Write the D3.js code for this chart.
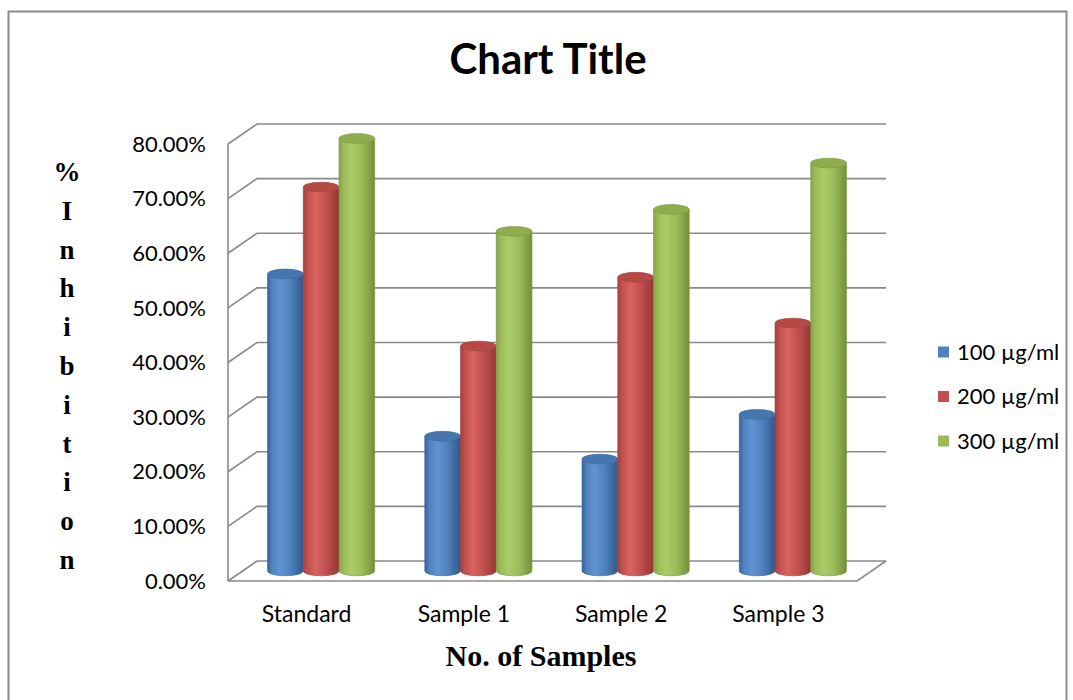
<!DOCTYPE html>
<html>
<head>
<meta charset="utf-8">
<script src="https://cdn.jsdelivr.net/npm/d3@7/dist/d3.min.js"></script>
<style>
  html, body { margin: 0; padding: 0; background: #fff; }
  svg { display: block; }
</style>
</head>
<body>
<svg id="chart" width="1073" height="700"></svg>
<script>
// Data
const categories = ["Standard", "Sample 1", "Sample 2", "Sample 3"];
const seriesNames = ["100 µg/ml", "200 µg/ml", "300 µg/ml"];
const s100 = [0.544, 0.247, 0.205, 0.287];
const s200 = [0.703, 0.412, 0.538, 0.454];
const s300 = [0.792, 0.622, 0.662, 0.747];
const yTicks = [0, 0.1, 0.2, 0.3, 0.4, 0.5, 0.6, 0.7, 0.8];
const yTitleLetters = ["%", "I", "n", "h", "i", "b", "i", "t", "i", "o", "n"];

const seriesValues = [s100, s200, s300];
const palette = [
  { edge: "#36609a", light: "#6294d4", base: "#4f81bd", dark: "#31578a", top: "#4775ad", stroke: "#3a659c" },
  { edge: "#a4403d", light: "#d96461", base: "#c0504d", dark: "#943734", top: "#b44946", stroke: "#9d3f3c" },
  { edge: "#85a444", light: "#abcd69", base: "#9bbb59", dark: "#738f3a", top: "#8fad4f", stroke: "#7b9840" }
];

const svg = d3.select("#chart");
const defs = svg.append("defs");

// Geometry of the 3D box
const front = { left: 228, right: 857, bottom: 581, top: 144 };
const depth = { dx: 29, dy: -20 };
const mid = { dx: depth.dx / 2, dy: depth.dy / 2 };

const x = d3.scaleBand().domain(categories).range([front.left, front.right]);
const y = d3.scaleLinear().domain([0, 0.8]).range([front.bottom, front.top]);
const xInner = d3.scaleBand().domain(seriesNames)
  .range([0, x.bandwidth()]).paddingOuter(0.7).paddingInner(0);

const gridColor = "#8a8a8a";
const sansFont = "Lato, 'Open Sans', sans-serif";
const serifFont = "'Liberation Serif', 'DejaVu Serif', serif";

// Outer chart border
svg.append("rect")
  .attr("x", 8.5).attr("y", 11.5).attr("width", 1058).attr("height", 720)
  .attr("fill", "none").attr("stroke", "#8a8a8a").attr("stroke-width", 2);

// Title
svg.append("text")
  .attr("x", 548).attr("y", 74)
  .attr("text-anchor", "middle")
  .attr("font-family", sansFont)
  .attr("font-weight", "bold")
  .attr("font-size", 42)
  .attr("fill", "#000")
  .text("Chart Title");

// Walls: gridlines on side wall and back wall
const grid = svg.append("g").attr("fill", "none").attr("stroke", gridColor).attr("stroke-width", 1.6);
yTicks.forEach(t => {
  const yf = y(t);
  grid.append("path").attr("d",
    `M${front.left},${yf} L${front.left + depth.dx},${yf + depth.dy} L${front.right + depth.dx},${yf + depth.dy}`);
});
// Side wall front edge
grid.append("line")
  .attr("x1", front.left).attr("x2", front.left)
  .attr("y1", y(0.8)).attr("y2", y(0));
// Floor
grid.append("path").attr("d",
  `M${front.left},${y(0)} L${front.right},${y(0)} L${front.right + depth.dx},${y(0) + depth.dy}`);

// Y tick labels
svg.append("g")
  .selectAll("text").data(yTicks).join("text")
  .attr("x", 206).attr("y", d => y(d))
  .attr("dy", "0.35em")
  .attr("text-anchor", "end")
  .attr("font-family", sansFont)
  .attr("font-size", 22)
  .attr("fill", "#000")
  .text(d => d3.format(".2%")(d));

// X category labels
svg.append("g")
  .selectAll("text").data(categories).join("text")
  .attr("x", d => x(d) + x.bandwidth() / 2)
  .attr("y", 622)
  .attr("text-anchor", "middle")
  .attr("font-family", sansFont)
  .attr("font-size", 23)
  .attr("fill", "#000")
  .text(d => d);

// Axis titles
svg.append("text")
  .attr("x", 541).attr("y", 666)
  .attr("text-anchor", "middle")
  .attr("font-family", serifFont)
  .attr("font-weight", "bold")
  .attr("font-size", 30)
  .attr("fill", "#000")
  .text("No. of Samples");

svg.append("g")
  .selectAll("text").data(yTitleLetters).join("text")
  .attr("x", 67)
  .attr("y", (d, i) => 181 + i * 38.8)
  .attr("text-anchor", "middle")
  .attr("font-family", serifFont)
  .attr("font-weight", "bold")
  .attr("font-size", 27)
  .attr("fill", "#000")
  .text(d => d);

// Cylinder gradients
palette.forEach((p, i) => {
  const g = defs.append("linearGradient").attr("id", "cyl" + i)
    .attr("x1", "0%").attr("x2", "100%").attr("y1", "0%").attr("y2", "0%");
  g.append("stop").attr("offset", "0%").attr("stop-color", p.edge);
  g.append("stop").attr("offset", "12%").attr("stop-color", p.base);
  g.append("stop").attr("offset", "35%").attr("stop-color", p.light);
  g.append("stop").attr("offset", "65%").attr("stop-color", p.base);
  g.append("stop").attr("offset", "100%").attr("stop-color", p.dark);
});

// Cylinders, placed at mid depth
const ry = 4.8;
const bars = [];
categories.forEach((c, ci) => {
  seriesNames.forEach((s, si) => {
    bars.push({ c, s, si, v: seriesValues[si][ci] });
  });
});

const barG = svg.append("g");
bars.forEach(b => {
  const w = xInner.bandwidth();
  const xl = x(b.c) + xInner(b.s) + mid.dx;
  const xr = xl + w;
  const rx = w / 2;
  const yTop = y(b.v) + mid.dy;
  const yBot = y(0) + mid.dy;
  const p = palette[b.si];
  const body = `M${xl},${yTop} L${xl},${yBot} A${rx},${ry} 0 0 0 ${xr},${yBot} L${xr},${yTop} A${rx},${ry} 0 0 1 ${xl},${yTop} Z`;
  barG.append("path").attr("d", body)
    .attr("fill", `url(#cyl${b.si})`)
    .attr("stroke", p.stroke).attr("stroke-width", 0.6);
  barG.append("ellipse")
    .attr("cx", xl + rx).attr("cy", yTop)
    .attr("rx", rx).attr("ry", ry)
    .attr("fill", p.top)
    .attr("stroke", p.stroke).attr("stroke-width", 0.6);
});

// Legend
const legend = svg.append("g");
seriesNames.forEach((s, i) => {
  const ly = 352 + i * 44.5;
  legend.append("rect")
    .attr("x", 938).attr("y", ly - 5.5)
    .attr("width", 11).attr("height", 11)
    .attr("fill", palette[i].base);
  legend.append("text")
    .attr("x", 957).attr("y", ly)
    .attr("dy", "0.35em")
    .attr("font-family", sansFont)
    .attr("font-size", 22)
    .attr("fill", "#000")
    .text(s);
});
</script>
</body>
</html>
